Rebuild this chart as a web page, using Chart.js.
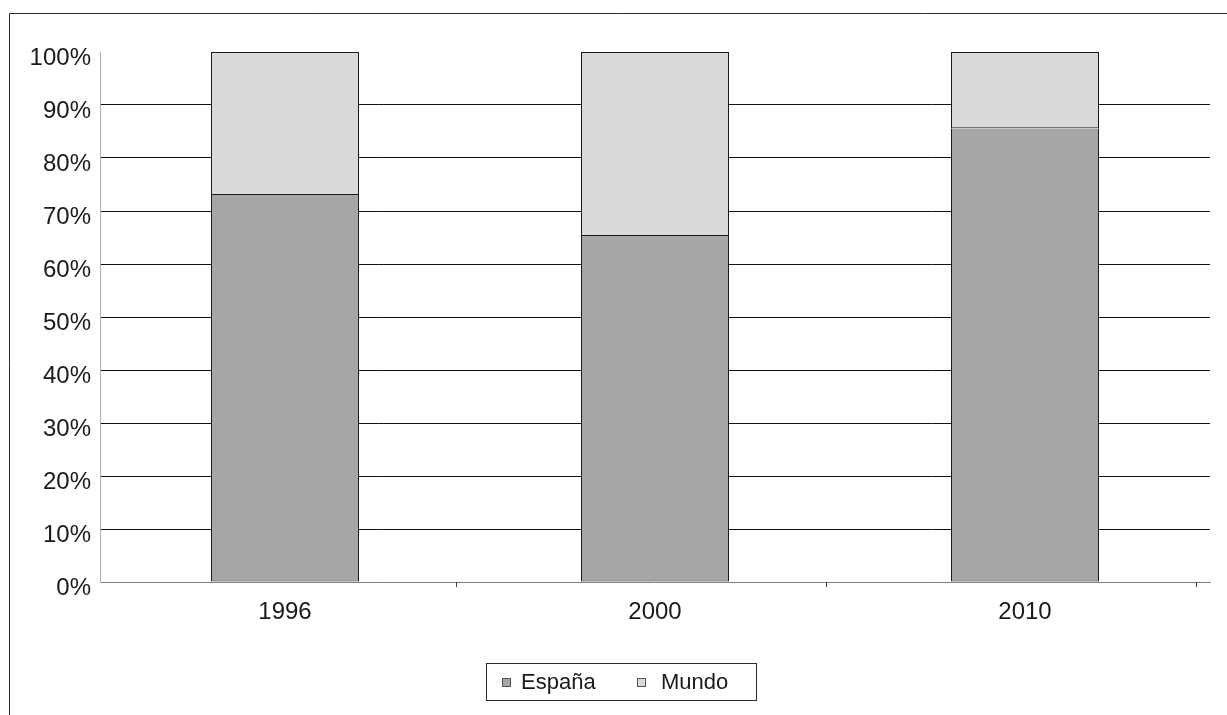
<!DOCTYPE html>
<html>
<head>
<meta charset="utf-8">
<script src="https://cdn.jsdelivr.net/npm/chart.js@4/dist/chart.umd.min.js"></script>
<style>
  html, body { margin: 0; padding: 0; background: #fff; }
  #wrap { position: relative; width: 1227px; height: 715px; }
  canvas { display: block; }
</style>
</head>
<body>
<div id="wrap"><canvas id="c" width="1227" height="715"></canvas></div>
<script>
// Share of each year's total (percent)
const categories = ['1996', '2000', '2010'];
const espana = [73.0, 65.3, 85.6];
const mundo = [27.0, 34.7, 14.4];
const seriesNames = ['España', 'Mundo'];
const seriesFill = ['#a6a6a6', '#d9d9d9'];
const yTickValues = [0, 10, 20, 30, 40, 50, 60, 70, 80, 90, 100];

const FONT = "'Liberation Sans', Arial, sans-serif";

// Outer frame, small category ticks and the boxed legend
const decorations = {
  id: 'decorations',
  afterDraw(chart) {
    const ctx = chart.ctx;
    const x = chart.scales.x;
    const area = chart.chartArea;
    ctx.save();

    // frame around the whole chart
    ctx.strokeStyle = '#2b2b2b';
    ctx.lineWidth = 1;
    ctx.beginPath();
    ctx.moveTo(9.5, chart.height + 1);
    ctx.lineTo(9.5, 13.5);
    ctx.lineTo(chart.width + 1, 13.5);
    ctx.stroke();

    // tick marks between categories, below the axis
    ctx.strokeStyle = '#404040';
    const step = x.getPixelForValue(1) - x.getPixelForValue(0);
    ctx.beginPath();
    for (let i = 0; i < categories.length; i++) {
      const px = Math.round(x.getPixelForValue(i) + step / 2 - 14) + 0.5;
      ctx.moveTo(px, area.bottom);
      ctx.lineTo(px, area.bottom + 5);
    }
    ctx.stroke();

    // legend
    const lx = 486.5, ly = 663.5, lw = 270, lh = 37;
    ctx.strokeStyle = '#2b2b2b';
    ctx.strokeRect(lx, ly, lw, lh);
    const items = [{ mx: 502, tx: 521 }, { mx: 637, tx: 661 }];
    ctx.font = '22px ' + FONT;
    ctx.textBaseline = 'middle';
    ctx.textAlign = 'left';
    chart.data.datasets.forEach((ds, i) => {
      const it = items[i];
      ctx.fillStyle = ds.backgroundColor;
      ctx.fillRect(it.mx, 678, 9, 9);
      ctx.strokeStyle = '#555';
      ctx.strokeRect(it.mx + 0.5, 678.5, 8, 8);
      ctx.fillStyle = '#1a1a1a';
      ctx.fillText(ds.label, it.tx, 683);
    });
    ctx.restore();
  }
};

new Chart(document.getElementById('c'), {
  type: 'bar',
  data: {
    labels: categories,
    datasets: [
      // the lower segment leaves its top edge to the segment stacked above it
      { label: seriesNames[0], data: espana, backgroundColor: seriesFill[0],
        borderColor: '#1a1a1a', borderWidth: 1, borderSkipped: 'top' },
      { label: seriesNames[1], data: mundo, backgroundColor: seriesFill[1],
        borderColor: '#1a1a1a', borderWidth: 1, borderSkipped: false }
    ]
  },
  options: {
    responsive: false,
    animation: false,
    layout: { padding: { top: 52, right: 17, left: 0, bottom: 0 } },
    plugins: {
      legend: { display: false },
      tooltip: { enabled: false }
    },
    datasets: {
      bar: { barPercentage: 0.4, categoryPercentage: 1.0 }
    },
    scales: {
      x: {
        stacked: true,
        grid: { display: false, drawTicks: false },
        border: { display: true, color: '#808080', width: 1 },
        ticks: { color: '#1a1a1a', font: { family: FONT, size: 24 }, padding: 16 },
        afterFit(scale) { scale.height = 133; }
      },
      y: {
        stacked: true,
        min: 0,
        max: 100,
        afterBuildTicks(scale) {
          scale.ticks = yTickValues.map(v => ({ value: v }));
        },
        grid: {
          drawTicks: false,
          color: ctx => (ctx.tick && (ctx.tick.value === 0 || ctx.tick.value === 100)) ? 'rgba(0,0,0,0)' : '#111',
          lineWidth: 1
        },
        border: { display: true, color: '#b0b0b0', width: 1 },
        ticks: {
          color: '#1a1a1a',
          font: { family: FONT, size: 24 },
          padding: 9,
          labelOffset: 6,
          callback: v => v + '%'
        },
        afterFit(scale) { scale.width = 100; }
      }
    }
  },
  plugins: [decorations]
});
</script>
</body>
</html>
